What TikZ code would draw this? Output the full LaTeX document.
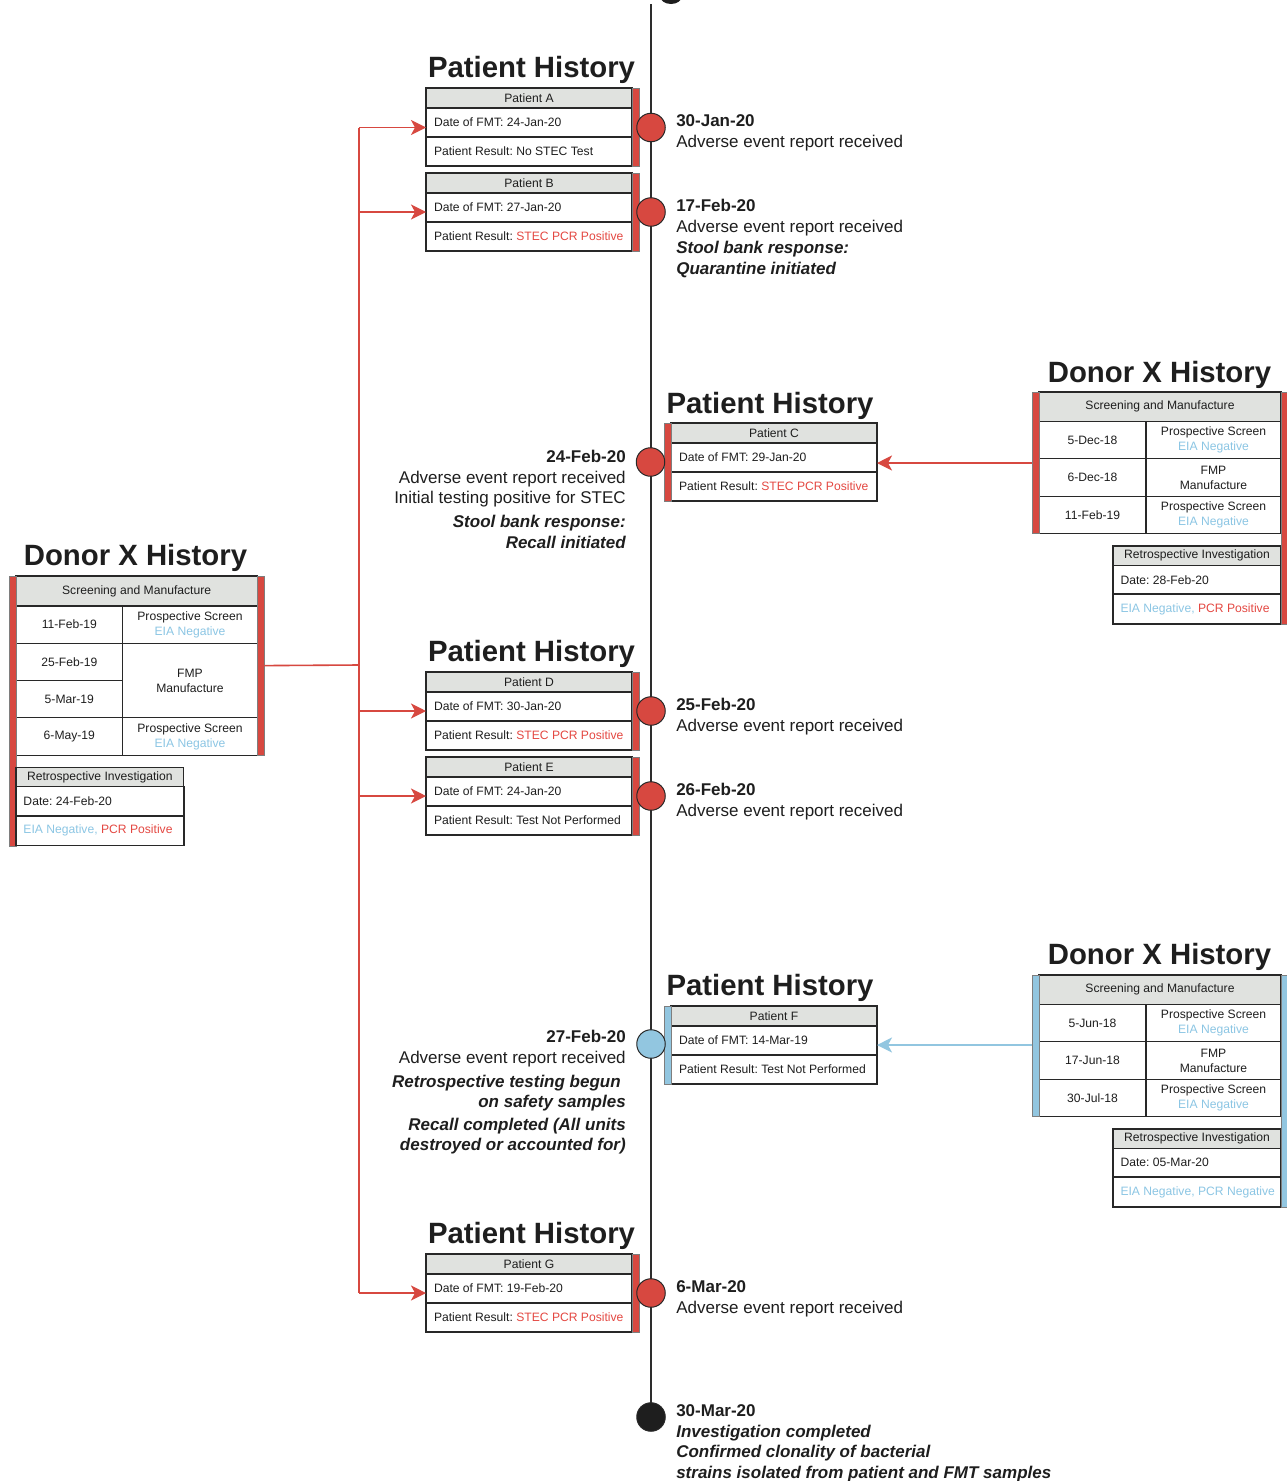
\documentclass[tikz,border=0pt]{standalone}
\usepackage{fontspec}
\setmainfont{Liberation Sans}
\usetikzlibrary{arrows.meta}
\newdimen\pxu
\pxu=0.75pt
\frenchspacing
\definecolor{redc}{RGB}{215,72,64}
\definecolor{redt}{RGB}{228,72,66}
\definecolor{bluec}{RGB}{146,198,224}
\definecolor{bluet}{RGB}{140,198,228}
\definecolor{hdrc}{RGB}{224,226,223}
\definecolor{linec}{RGB}{40,40,40}
\definecolor{tlc}{RGB}{45,45,45}
\definecolor{txtc}{RGB}{30,30,30}
\newcommand\tabfont{\fontsize{9.1}{11.25}\selectfont}
\newcommand\tlfont{\fontsize{12.75}{15.5}\selectfont}
\newcommand\ttlfont{\fontsize{22}{26}\selectfont\bfseries}
\newcommand\pbox[1]{\makebox[190\pxu][l]{#1}}
\newcommand\rbox[1]{\makebox[153\pxu][l]{#1}}
\tikzset{
  cellb/.style={draw=linec, line width=1.1\pxu, inner sep=0pt, outer sep=0pt, anchor=north west, font=\tabfont, text=txtc},
  hcell/.style 2 args={cellb, fill=hdrc, minimum width=#1\pxu, minimum height=#2\pxu, align=center},
  ccell/.style 2 args={cellb, fill=white, minimum width=#1\pxu, minimum height=#2\pxu, align=center},
  prow/.style={cellb, fill=white, inner xsep=8\pxu, minimum height=29\pxu},
  rrow/.style={cellb, fill=white, inner xsep=7.5\pxu, minimum height=#1\pxu},
  barn/.style={draw=linec!60, line width=0.7\pxu, minimum width=7\pxu, inner sep=0pt, outer sep=0pt},
  evc/.style={circle, draw=linec, line width=1\pxu, minimum size=28.5\pxu, inner sep=0pt},
  tlb/.style={font=\tlfont\bfseries, text=txtc, anchor=base west, inner sep=0pt},
  tln/.style={font=\tlfont, text=txtc, anchor=base west, inner sep=0pt},
  tlbi/.style={font=\tlfont\bfseries\itshape, text=txtc, anchor=base west, inner sep=0pt},
  ttl/.style={font=\ttlfont, text=txtc, anchor=base, inner sep=0pt},
  redln/.style={draw=redc, line width=1.2pt},
  redarr/.style={redln, -{Stealth[length=11.25pt,width=11.25pt,inset=3pt]}},
  bluearr/.style={draw=bluec, line width=1.2pt, -{Stealth[length=11.25pt,width=11.25pt,inset=3pt]}},
  tline/.style={draw=tlc, line width=1.5pt}
}
% patient table: name, x, ytop, header, date, result
\newcommand\ptab[6]{%
  \node[hcell={206}{20}] (#1h) at (#2,#3) {#4};
  \node[prow] (#1d) at (#1h.south west) {\pbox{Date of FMT: #5}};
  \node[prow] (#1r) at (#1d.south west) {\pbox{Patient Result: #6}};
}
% right donor table: name, ytop, d1, d2, d3, retro date, retro result, bar colour
\newcommand\rdonor[8]{%
  \node[hcell={242}{29.5}] (#1h) at (1039,#2) {Screening and Manufacture};
  \node[ccell={107}{37.3}] (#1a1) at (#1h.south west) {#3};
  \node[ccell={135}{37.3}] (#1b1) at (#1a1.north east) {Prospective Screen\\\textcolor{bluet}{EIA Negative}};
  \node[ccell={107}{37.3}] (#1a2) at (#1a1.south west) {#4};
  \node[ccell={135}{37.3}] (#1b2) at (#1a2.north east) {FMP\\Manufacture};
  \node[ccell={107}{37.3}] (#1a3) at (#1a2.south west) {#5};
  \node[ccell={135}{37.3}] (#1b3) at (#1a3.north east) {Prospective Screen\\\textcolor{bluet}{EIA Negative}};
  \node[barn, fill=#8, minimum height=141.4\pxu, anchor=north east] (#1lb) at (#1h.north west) {};
  \node[hcell={168}{19.5}] (#1rh) at (1113,#2+154) {Retrospective Investigation};
  \node[rrow={28.5}] (#1rd) at (#1rh.south west) {\rbox{Date: #6}};
  \node[rrow={30}] (#1rr) at (#1rd.south west) {\rbox{#7}};
  \node[barn, fill=#8, minimum height=232\pxu, anchor=north west] (#1rb) at (#1h.north east) {};
}
\begin{document}
\begin{tikzpicture}[x=0.75pt,y=-0.75pt]
\useasboundingbox (0,0) rectangle (1286,1481);
\fill[white] (0,0) rectangle (1286,1481);
% clipped shape at the top edge
\fill[txtc] (671,-4) ellipse [x radius=11\pxu, y radius=8\pxu];

% timeline
\coordinate (ttop) at (651,4);
\coordinate (tbot) at (651,1417);
\draw[tline] (ttop) -- (tbot);

% ---------- Patient A / B ----------
\node[ttl] (ttlA) at (531.5,77) {Patient History};
\ptab{A}{426}{88}{Patient A}{24-Jan-20}{No STEC Test}
\node[barn, fill=redc, minimum height=78\pxu, anchor=north west] (Abar) at (Ah.north east) {};
\ptab{B}{426}{173}{Patient B}{27-Jan-20}{\textcolor{redt}{STEC PCR Positive}}
\node[barn, fill=redc, minimum height=78\pxu, anchor=north west] (Bbar) at (Bh.north east) {};

\node[evc, fill=redc] (cA) at (651,127.5) {};
\node[tlb] (eA1) at (676,126) {30-Jan-20};
\node[tln] (eA2) at (676,147) {Adverse event report received};

\node[evc, fill=redc] (cB) at (651,212) {};
\node[tlb] (eB1) at (676,211) {17-Feb-20};
\node[tln] (eB2) at (676,232) {Adverse event report received};
\node[tlbi] (eB3) at (676,253) {Stool bank response:};
\node[tlbi] (eB4) at (676,274) {Quarantine initiated};

% ---------- Patient C ----------
\node[ttl] (ttlC) at (770,413) {Patient History};
\ptab{C}{671}{423}{Patient C}{29-Jan-20}{\textcolor{redt}{STEC PCR Positive}}
\node[barn, fill=redc, minimum height=78\pxu, anchor=north east] (Cbar) at (Ch.north west) {};

\node[evc, fill=redc] (cC) at (650.5,462) {};
\node[tlb, anchor=base east] (eC1) at (626,462) {24-Feb-20};
\node[tln, anchor=base east] (eC2) at (626,483) {Adverse event report received};
\node[tln, anchor=base east] (eC3) at (626,503) {Initial testing positive for STEC};
\node[tlbi, anchor=base east] (eC4) at (626,527) {Stool bank response:};
\node[tlbi, anchor=base east] (eC5) at (626,548) {Recall initiated};

% ---------- Donor right 1 ----------
\node[ttl] (ttlR1) at (1159.5,382) {Donor X History};
\rdonor{RA}{392}{5-Dec-18}{6-Dec-18}{11-Feb-19}{28-Feb-20}{\textcolor{bluet}{EIA Negative,} \textcolor{redt}{PCR Positive}}{redc}
\coordinate (aCy) at (0,463);
\draw[redarr] (RAlb.west |- aCy) -- (Cd.east |- aCy);

% ---------- Donor left ----------
\node[ttl] (ttlL) at (135.5,565) {Donor X History};
\node[hcell={241.3}{30}] (LDh) at (16,576) {Screening and Manufacture};
\node[ccell={106.7}{37.3}] (LDa1) at (LDh.south west) {11-Feb-19};
\node[ccell={134.6}{37.3}] (LDb1) at (LDa1.north east) {Prospective Screen\\\textcolor{bluet}{EIA Negative}};
\node[ccell={106.7}{37.3}] (LDa2) at (LDa1.south west) {25-Feb-19};
\node[ccell={106.7}{37.3}] (LDa3) at (LDa2.south west) {5-Mar-19};
\node[ccell={134.6}{74.6}] (LDb2) at (LDa2.north east) {FMP\\Manufacture};
\node[ccell={106.7}{37.3}] (LDa4) at (LDa3.south west) {6-May-19};
\node[ccell={134.6}{37.3}] (LDb4) at (LDa4.north east) {Prospective Screen\\\textcolor{bluet}{EIA Negative}};
\node[barn, fill=redc, minimum height=270\pxu, anchor=north east] (LDlb) at (LDh.north west) {};
\node[barn, fill=redc, minimum height=179.2\pxu, anchor=north west] (LDrb) at (LDh.north east) {};
\node[hcell={167.7}{19.4}] (LDrh) at (16,767.3) {Retrospective Investigation};
\node[rrow={29.3}] (LDrd) at (LDrh.south west) {\rbox{Date: 24-Feb-20}};
\node[rrow={29.3}] (LDrr) at (LDrd.south west) {\rbox{\textcolor{bluet}{EIA Negative,} \textcolor{redt}{PCR Positive}}};

% ---------- Patient D / E ----------
\node[ttl] (ttlD) at (531.5,661) {Patient History};
\ptab{D}{426}{672}{Patient D}{30-Jan-20}{\textcolor{redt}{STEC PCR Positive}}
\node[barn, fill=redc, minimum height=78\pxu, anchor=north west] (Dbar) at (Dh.north east) {};
\ptab{E}{426}{757}{Patient E}{24-Jan-20}{Test Not Performed}
\node[barn, fill=redc, minimum height=78\pxu, anchor=north west] (Ebar) at (Eh.north east) {};

\node[evc, fill=redc] (cD) at (651,711) {};
\node[tlb] (eD1) at (676,710) {25-Feb-20};
\node[tln] (eD2) at (676,731) {Adverse event report received};

\node[evc, fill=redc] (cE) at (651,796) {};
\node[tlb] (eE1) at (676,795) {26-Feb-20};
\node[tln] (eE2) at (676,816) {Adverse event report received};

% ---------- Patient F ----------
\node[ttl] (ttlF) at (770,995) {Patient History};
\ptab{F}{671}{1006}{Patient F}{14-Mar-19}{Test Not Performed}
\node[barn, fill=bluec, minimum height=78\pxu, anchor=north east] (Fbar) at (Fh.north west) {};

\node[evc, fill=bluec] (cF) at (651,1044) {};
\node[tlb, anchor=base east] (eF1) at (626,1042) {27-Feb-20};
\node[tln, anchor=base east] (eF2) at (626,1063) {Adverse event report received};
\node[tlbi, anchor=base east] (eF3) at (621,1087) {Retrospective testing begun};
\node[tlbi, anchor=base east] (eF4) at (626,1107) {on safety samples};
\node[tlbi, anchor=base east] (eF5) at (626,1130) {Recall completed (All units};
\node[tlbi, anchor=base east] (eF6) at (626,1150) {destroyed or accounted for)};

% ---------- Donor right 2 ----------
\node[ttl] (ttlR2) at (1159.5,964) {Donor X History};
\rdonor{RB}{975}{5-Jun-18}{17-Jun-18}{30-Jul-18}{05-Mar-20}{\textcolor{bluet}{EIA Negative, PCR Negative}}{bluec}
\coordinate (aFy) at (0,1045);
\draw[bluearr] (RBlb.west |- aFy) -- (Fd.east |- aFy);

% ---------- Patient G ----------
\node[ttl] (ttlG) at (531.5,1243) {Patient History};
\ptab{G}{426}{1254}{Patient G}{19-Feb-20}{\textcolor{redt}{STEC PCR Positive}}
\node[barn, fill=redc, minimum height=78\pxu, anchor=north west] (Gbar) at (Gh.north east) {};

\node[evc, fill=redc] (cG) at (651,1293) {};
\node[tlb] (eG1) at (676,1292) {6-Mar-20};
\node[tln] (eG2) at (676,1313) {Adverse event report received};

% ---------- End ----------
\node[evc, fill=txtc] (cEnd) at (tbot) {};
\node[tlb] (eZ1) at (676,1416) {30-Mar-20};
\node[tlbi] (eZ2) at (676,1437) {Investigation completed};
\node[tlbi] (eZ3) at (676,1457) {Confirmed clonality of bacterial};
\node[tlbi] (eZ4) at (676,1478) {strains isolated from patient and FMT samples};

% ---------- red connector tree from left donor ----------
\coordinate (trunk) at (359,665);
\draw[redln] (LDrb.east) -- (trunk);
\draw[redln] (trunk |- cA) -- (trunk |- cG);
\draw[redarr] (trunk |- cA) -- (Ad.west |- cA);
\draw[redarr] (trunk |- cB) -- (Bd.west |- cB);
\draw[redarr] (trunk |- cD) -- (Dd.west |- cD);
\draw[redarr] (trunk |- cE) -- (Ed.west |- cE);
\draw[redarr] (trunk |- cG) -- (Gd.west |- cG);
\end{tikzpicture}
\end{document}
